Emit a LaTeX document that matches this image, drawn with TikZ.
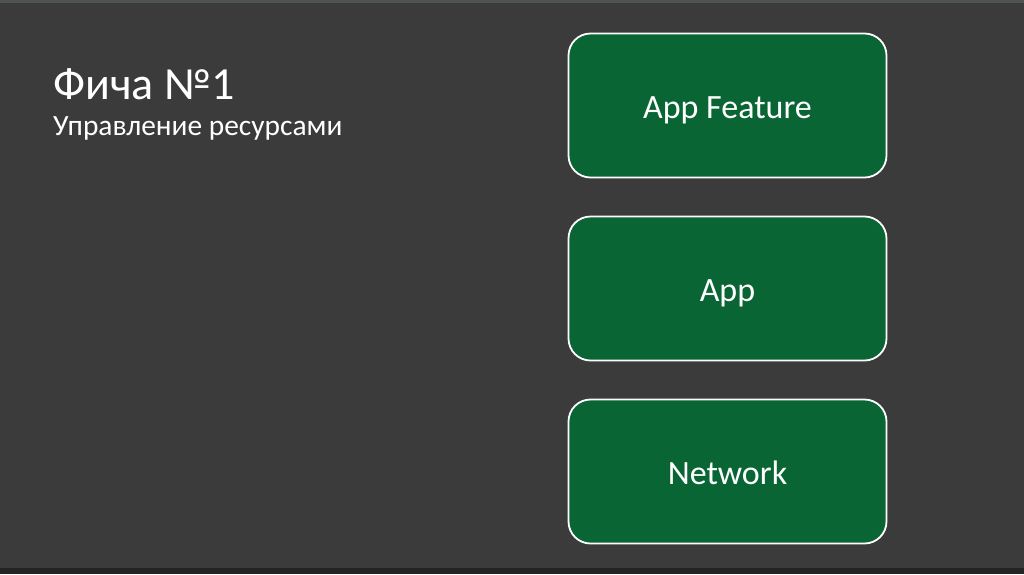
\documentclass[tikz,border=0pt]{standalone}
\usepackage{fontspec}
\setmainfont{Carlito}
\definecolor{bg}{HTML}{3B3B3B}
\definecolor{topline}{HTML}{4F5452}
\definecolor{botband}{HTML}{242424}
\definecolor{boxgreen}{HTML}{0A6535}
\begin{document}
\begin{tikzpicture}[x=1pt,y=-1pt,
  layer/.style={draw=white,line width=1.8pt,fill=boxgreen,rounded corners=22pt,
    minimum width=318pt,minimum height=144pt,inner sep=0pt,
    text height=26pt,text depth=0pt,
    text=white,font=\fontsize{34}{40}\selectfont}]
\fill[bg] (0,0) rectangle (1024,574);
\useasboundingbox (0,0) rectangle (1024,574);
\fill[topline] (0,0) rectangle (1024,3);
\fill[botband] (0,568) rectangle (1024,574);
\node[anchor=base west,inner sep=0pt,text=white,font=\fontsize{46}{52}\selectfont] (title) at (53,99) {Фича №1};
\node[anchor=base west,inner sep=0pt,text=white,font=\fontsize{29.4}{34}\selectfont] (sub) at (53,135) {Управление ресурсами};
\node[layer] (feat) at (727.5,105.5) {App Feature};
\node[layer] (app) at (727.5,288.5) {App};
\node[layer] (net) at (727.5,471.5) {Network};
\end{tikzpicture}
\end{document}
